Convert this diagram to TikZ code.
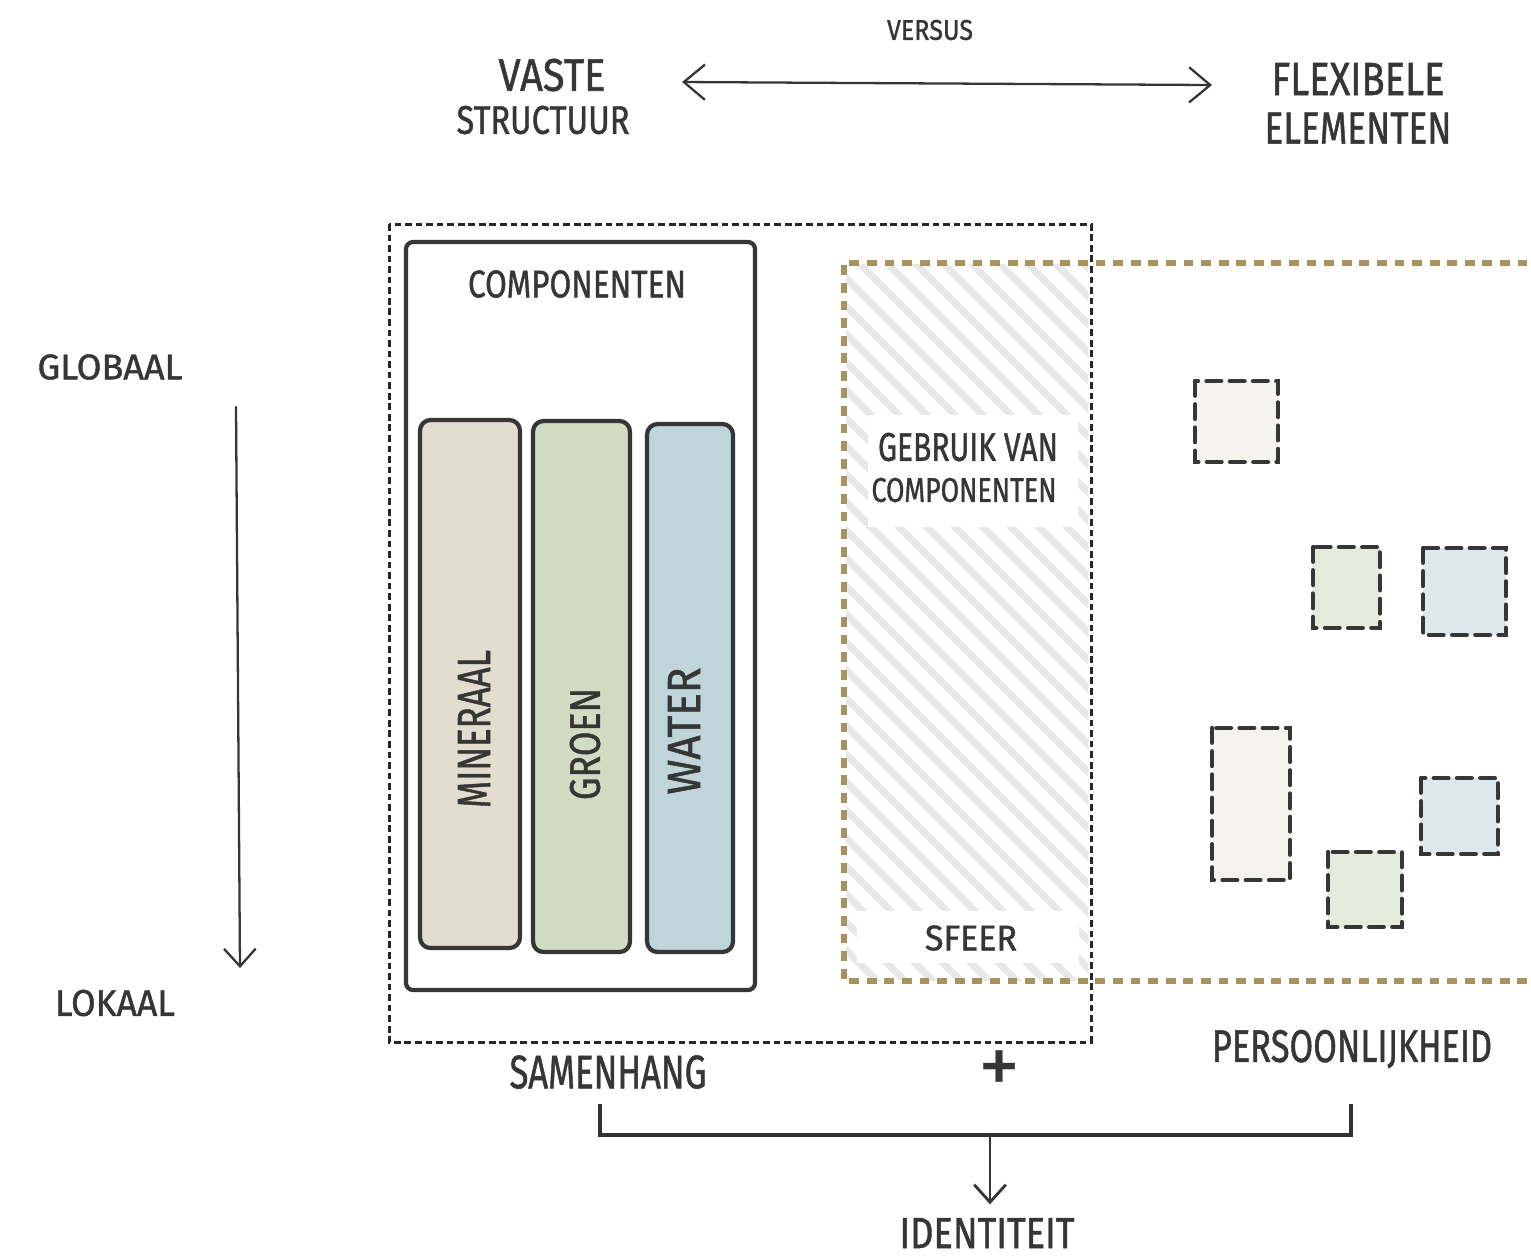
\documentclass[tikz,border=0pt]{standalone}
\usepackage{fontspec}
\setmainfont{Fira Sans}
\newfontfamily\handfont{Fira Sans}[FakeBold=1.2]
\usetikzlibrary{arrows.meta,calc}
\definecolor{ink}{HTML}{363636}
\definecolor{gold}{HTML}{A8935F}
\definecolor{hatchgray}{HTML}{E8E8E8}
\definecolor{minfill}{HTML}{E3DDD0}
\definecolor{groenfill}{HTML}{D1DCC3}
\definecolor{waterfill}{HTML}{BFD5DA}
\definecolor{lightmin}{HTML}{F5F3EF}
\definecolor{lightgroen}{HTML}{E4EBDD}
\definecolor{lightwater}{HTML}{DEE7EB}
\newlength\pxlen
\setlength\pxlen{0.01cm}
\newcommand\handtext[3]{\resizebox{#1\pxlen}{#2\pxlen}{\handfont #3}}
\begin{document}
\begin{tikzpicture}[x=0.01cm,y=-0.01cm,
  lbl/.style={inner sep=0pt, text=ink, anchor=center},
  sketch/.style={draw=ink, line width=1.2pt, line join=round, line cap=round},
  bar/.style={sketch, rounded corners=3pt},
  tile/.style={draw=ink, line width=1.2pt, dash pattern=on 4.2pt off 2.4pt, line cap=round},
  pen/.style={draw=ink, line width=0.65pt, line cap=round},
  chev/.style={-{Straight Barb[length=5pt,width=9pt]}},
  dchev/.style={{Straight Barb[length=6pt,width=10pt]}-{Straight Barb[length=6pt,width=10pt]}},
  bracket/.style={draw=ink!90!black, line width=1pt, line join=miter}
]
\useasboundingbox[fill=white] (0,0) rectangle (1531,1259);

% header
\node[lbl] (versus) at (930,30) {\handtext{86}{20}{VERSUS}};
\node[lbl] (vaste) at (552,75) {\handtext{107}{32}{VASTE}};
\node[lbl] (structuur) at (543,120) {\handtext{173}{28}{STRUCTUUR}};
\node[lbl] (flexibele) at (1358,79) {\handtext{173}{32}{FLEXIBELE}};
\node[lbl] (elementen) at (1358,128) {\handtext{187}{31}{ELEMENTEN}};
\coordinate (arrL) at (682,82);
\coordinate (arrR) at (1212,85);
\draw[pen, dchev] (arrL) -- (arrR);

% scale axis
\node[lbl] (globaal) at (110,367) {\handtext{145}{25}{GLOBAAL}};
\node[lbl] (lokaal) at (115,1003) {\handtext{120}{26}{LOKAAL}};
\coordinate (axTop) at (236,407);
\coordinate (axBot) at (240,968);
\draw[pen, chev] (axTop) -- (axBot);

% hatched zone
\begin{scope}
  \clip (846,264) rectangle (1088,980);
  \foreach \k in {90,118,...,1100}
    \draw[hatchgray, line width=2pt] (\k,250) -- ++(760,760);
\end{scope}
\fill[white] (868,415) rectangle (1078,527);
\fill[white] (857,911) rectangle (1079,963);

% gold dashed frame (flexible elements)
\draw[gold, line width=1.5pt, dash pattern=on 2.8pt off 2.2pt]
  (1545,263) -- (844,263) -- (844,981) -- (1545,981);

% black dashed frame (fixed structure)
\draw[black!85, line width=0.85pt, dash pattern=on 1.9pt off 1.1pt]
  (389,224) rectangle (1091,1042);

% components box
\draw[sketch, rounded corners=2pt] (406,242) rectangle (755,990);
\node[lbl] (componenten) at (577,284) {\handtext{218}{27}{COMPONENTEN}};

\draw[bar, fill=minfill] (420,420) rectangle (520,948);
\draw[bar, fill=groenfill] (533,421) rectangle (630,952);
\draw[bar, fill=waterfill] (647,424) rectangle (733,952);
\node[lbl, rotate=90] (mineraal) at (474,729) {\handtext{158}{32}{MINERAAL}};
\node[lbl, rotate=90] (groen) at (585,744) {\handtext{112}{30}{GROEN}};
\node[lbl, rotate=90] (water) at (684,731) {\handtext{127}{32}{WATER}};

% use of components
\node[lbl] (gebruik) at (968,447) {\handtext{180}{28}{GEBRUIK VAN}};
\node[lbl] (gebruik2) at (964,490) {\handtext{185}{24}{COMPONENTEN}};
\node[lbl] (sfeer) at (971,938) {\handtext{92}{25}{SFEER}};

% flexible tiles
\draw[tile, fill=lightmin] (1195,381) rectangle (1278,462);
\draw[tile, fill=lightgroen] (1313,547) rectangle (1380,628);
\draw[tile, fill=lightwater] (1423,548) rectangle (1506,635);
\draw[tile, fill=lightmin] (1212,728) rectangle (1290,880);
\draw[tile, fill=lightwater] (1421,778) rectangle (1498,854);
\draw[tile, fill=lightgroen] (1328,852) rectangle (1402,927);

% bottom
\node[lbl] (samenhang) at (608,1072) {\handtext{197}{33}{SAMENHANG}};
\node[lbl] (plus) at (1000,1073) {\fontsize{24}{24}\selectfont +};
\node[lbl] (persoon) at (1352,1049) {\handtext{280}{32}{PERSOONLIJKHEID}};
\node[lbl] (identiteit) at (987,1233) {\handtext{175}{30}{IDENTITEIT}};

\coordinate (brL) at ($(samenhang.south)+(-8,14)$);
\coordinate (brR) at ($(persoon.south)+(-1,35)$);
\coordinate (join) at (990,1135);
\draw[bracket] (brL) |- (join) -| (brR);
\draw[pen, line width=0.8pt, chev] (join) -- ($(identiteit.north)+(3,-13)$);
\end{tikzpicture}
\end{document}
